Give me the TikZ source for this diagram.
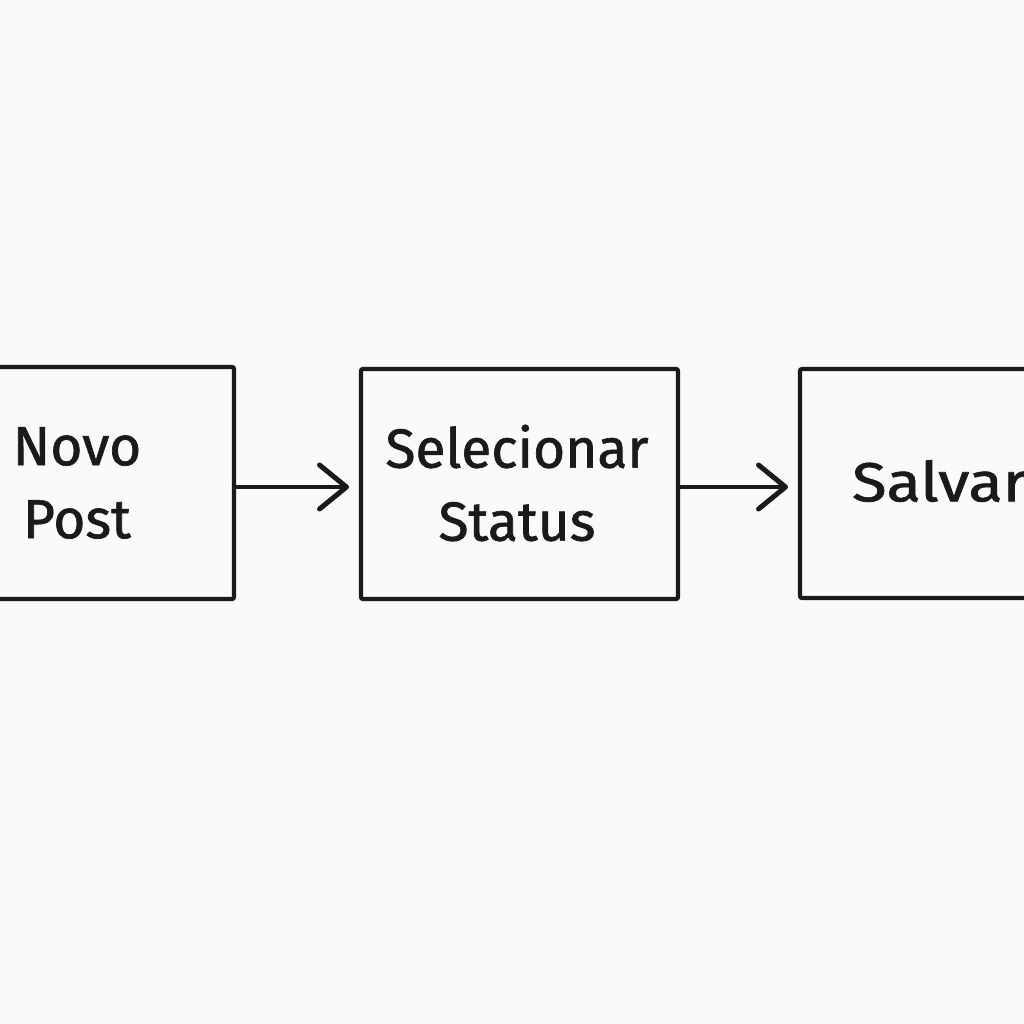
\documentclass[tikz,border=0pt]{standalone}
\usepackage{fontspec}
\setmainfont{Fira Sans}[FakeBold=1.2]
\usetikzlibrary{arrows.meta}
\definecolor{bg}{HTML}{FAFAF8}
\definecolor{ink}{HTML}{1A1A1A}
\tikzset{
  box/.style={draw=ink, line width=4.2pt, rounded corners=2pt},
  lbl/.style={text=ink, align=center, font=\fontsize{55}{73}\selectfont},
  conn/.style={draw=ink, line width=4.4pt, line cap=round, -{Straight Barb[length=27pt,width=44pt,line width=5pt, round]}}
}
\begin{document}
\begin{tikzpicture}[x=1pt,y=-1pt]
\fill[bg] (0,0) rectangle (1024,1024);
\useasboundingbox (0,0) rectangle (1024,1024);
\clip (0,0) rectangle (1024,1024);
\draw[box] (-10,367) rectangle (234,599);
\draw[box] (361,369) rectangle (678,599);
\draw[box] (800,369) rectangle (1040,598);
\coordinate (b1) at (234,487);
\coordinate (b2l) at (361,487);
\coordinate (b2r) at (678,487);
\coordinate (b3) at (800,487);
\node[lbl] (t1) at (77,483) {Novo\\Post};
\node[lbl] (t2) at (517,483) {Selecionar\\Status};
\node[lbl, anchor=west, xscale=1.15] (t3) at (848,481) {Salvar};
\draw[conn] (b1) -- ([xshift=-12pt]b2l);
\draw[conn] (b2r) -- ([xshift=-12pt]b3);
\end{tikzpicture}
\end{document}
